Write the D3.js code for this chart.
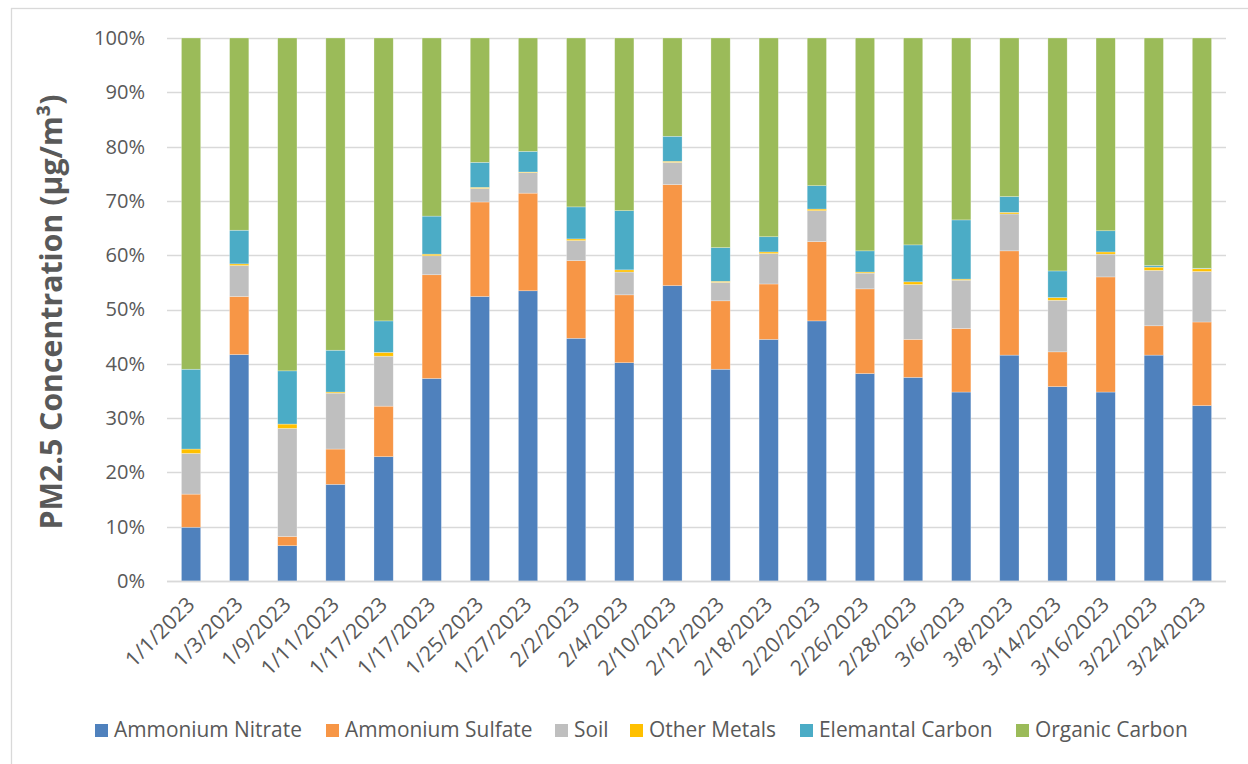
<!DOCTYPE html>
<html><head><meta charset="utf-8">
<script src="https://cdn.jsdelivr.net/npm/d3@7/dist/d3.min.js"></script>
<style>body{margin:0;background:#fff}svg{display:block}</style>
</head><body>
<svg id="chart" width="1248" height="764"></svg>
<script>
const dates = ["1/1/2023","1/3/2023","1/9/2023","1/11/2023","1/17/2023","1/17/2023","1/25/2023","1/27/2023","2/2/2023","2/4/2023","2/10/2023","2/12/2023","2/18/2023","2/20/2023","2/26/2023","2/28/2023","3/6/2023","3/8/2023","3/14/2023","3/16/2023","3/22/2023","3/24/2023"];
const seriesNames = ["Ammonium Nitrate","Ammonium Sulfate","Soil","Other Metals","Elemantal Carbon","Organic Carbon"];
const ammoniumNitrate = [9.9,41.7,6.5,17.8,22.9,37.3,52.4,53.5,44.7,40.2,54.4,39.0,44.5,47.9,38.2,37.5,34.8,41.6,35.8,34.8,41.6,32.3];
const ammoniumSulfate = [6.1,10.7,1.7,6.5,9.3,19.1,17.4,18.0,14.3,12.5,18.6,12.6,10.2,14.6,15.6,7.0,11.7,19.2,6.4,21.2,5.4,15.4];
const soil = [7.5,5.7,19.9,10.3,9.2,3.5,2.5,3.8,3.7,4.2,4.1,3.4,5.6,5.7,2.9,10.1,8.9,6.8,9.5,4.2,10.2,9.3];
const otherMetals = [0.8,0.3,0.8,0.2,0.7,0.3,0.2,0.1,0.3,0.4,0.2,0.2,0.3,0.3,0.2,0.5,0.2,0.3,0.5,0.4,0.6,0.5];
const elementalCarbon = [14.7,6.2,9.8,7.7,5.8,7.0,4.6,3.8,5.9,10.9,4.6,6.2,2.8,4.3,3.9,6.8,10.9,2.9,4.9,3.9,0.3,0.1];
const organicCarbon = [61.0,35.4,61.3,57.5,52.1,32.8,22.9,20.9,31.1,31.8,18.1,38.6,36.6,27.2,39.2,38.1,33.5,29.2,42.9,35.5,41.9,42.4];
const yTicks = [0,0.1,0.2,0.3,0.4,0.5,0.6,0.7,0.8,0.9,1.0];
const colors = ["#4f81bd","#f79646","#bfbfbf","#ffc000","#4bacc6","#9bbb59"];

const seriesVals = [ammoniumNitrate, ammoniumSulfate, soil, otherMetals, elementalCarbon, organicCarbon];
const rows = dates.map((d,i)=>{
  const r = {idx:i, date:d};
  const tot = d3.sum(seriesVals, s=>s[i]);
  seriesNames.forEach((n,k)=>{ r[n] = seriesVals[k][i]/tot; });
  return r;
});
const stack = d3.stack().keys(seriesNames)(rows);

const svg = d3.select("#chart");
const font = "'Open Sans', Lato, sans-serif";
const textColor = "#595959";

// fit font size so the sample text has the target width
function fitSize(sample, target, base, weight) {
  const t = svg.append("text").attr("font-family",font).attr("font-size",base)
    .attr("font-weight",weight||"normal").text(sample);
  const w = t.node().getComputedTextLength();
  t.remove();
  return w > 0 ? base*target/w : base;
}
const legendSize = fitSize("Ammonium Nitrate", 188, 19);
const yTickSize = fitSize("100%", 51, 19);
const xLabSize = fitSize("3/24/2023", 100, 17);
const titleSize = fitSize("PM2.5 Concentration (µg/m³)", 435, 24, "bold");

svg.append("rect").attr("x",11.5).attr("y",8.5).attr("width",1250).attr("height",770)
  .attr("fill","#fff").attr("stroke","#d9d9d9").attr("stroke-width",1.3);

const pLeft = 167, pRight = 1226, pTop = 38, pBottom = 581;
const x = d3.scaleBand().domain(d3.range(dates.length)).range([pLeft,pRight]).paddingInner(0.6).paddingOuter(0.3);
const y = d3.scaleLinear().domain([0,1]).range([pBottom,pTop]);

// gridlines
svg.append("g").selectAll("line").data(yTicks).join("line")
  .attr("x1",pLeft).attr("x2",pRight)
  .attr("y1",d=>Math.round(y(d))+0.5).attr("y2",d=>Math.round(y(d))+0.5)
  .attr("stroke","#d9d9d9").attr("stroke-width",1.3);

// y axis labels
const yAxis = d3.axisLeft(y).tickValues(yTicks).tickFormat(d3.format(".0%")).tickSize(0).tickPadding(0);
const ya = svg.append("g").attr("transform",`translate(145,0)`).call(yAxis);
ya.select(".domain").remove();
ya.selectAll("text").attr("font-family",font).attr("font-size",yTickSize).attr("fill",textColor);

// bars
svg.append("g").selectAll("g").data(stack).join("g")
  .attr("fill",(d,i)=>colors[i])
  .selectAll("rect").data(d=>d).join("rect")
  .attr("x",d=>x(d.data.idx))
  .attr("width",x.bandwidth())
  .attr("y",d=>y(d[1]))
  .attr("height",d=>Math.max(0,y(d[0])-y(d[1])))
  .attr("stroke","#ffffff").attr("stroke-opacity",0.45).attr("stroke-width",0.6);

// x axis line
svg.append("line").attr("x1",pLeft).attr("x2",pRight).attr("y1",pBottom+0.5).attr("y2",pBottom+0.5)
  .attr("stroke","#d9d9d9").attr("stroke-width",1.3);

// x labels
const xAxis = d3.axisBottom(x).tickFormat(i=>dates[i]).tickSize(0).tickPadding(0);
const xa = svg.append("g").attr("transform",`translate(0,${pBottom})`).call(xAxis);
xa.select(".domain").remove();
xa.selectAll("text")
  .attr("font-family",font).attr("font-size",xLabSize).attr("fill",textColor)
  .attr("text-anchor","end").attr("dy",0)
  .attr("transform","translate(5,25) rotate(-45)");

// y title
svg.append("text").attr("transform","translate(62,312) rotate(-90)")
  .attr("text-anchor","middle").attr("font-family",font).attr("font-weight","bold")
  .attr("font-size",titleSize).attr("fill",textColor)
  .text("PM2.5 Concentration (µg/m³)");

// legend
const legendX = [95,326,555,630,800,1016];
const lg = svg.append("g").selectAll("g").data(seriesNames).join("g")
  .attr("transform",(d,i)=>`translate(${legendX[i]},730)`);
lg.append("rect").attr("x",0).attr("y",-6).attr("width",13).attr("height",13).attr("fill",(d,i)=>colors[i]);
lg.append("text").attr("x",19).attr("y",7).attr("font-family",font).attr("font-size",legendSize)
  .attr("fill",textColor).text(d=>d);
</script>
</body></html>
